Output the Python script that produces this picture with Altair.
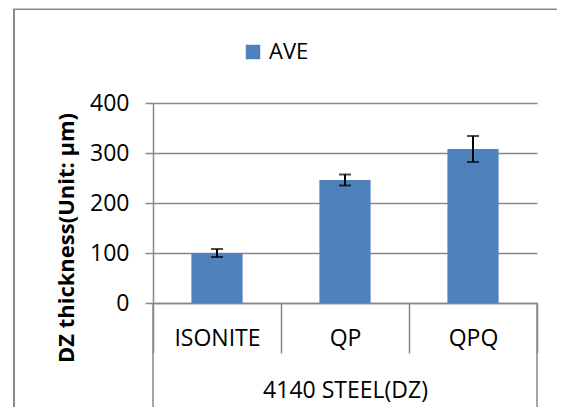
import altair as alt
import pandas as pd

categories = ["ISONITE", "QP", "QPQ"]
ave = [100, 246, 308]
err = [8, 11, 26]
series = ["AVE", "AVE", "AVE"]
group_label = "4140 STEEL(DZ)"
y_title = "DZ thickness(Unit: μm)"

df = pd.DataFrame({
    "cat": categories,
    "ave": ave,
    "lo": [a - e for a, e in zip(ave, err)],
    "hi": [a + e for a, e in zip(ave, err)],
    "series": series,
})

GRAY = "#888888"
FONT = "Open Sans"
W, H = 384, 200

xenc = alt.X(
    "cat:N",
    sort=categories,
    scale=alt.Scale(paddingInner=0, paddingOuter=0),
    axis=alt.Axis(
        title=group_label,
        titleFontSize=23, titleFontWeight="normal", titleColor="black",
        titleX=192, titleY=87, titleBaseline="middle", titleAlign="center",
        tickBand="extent", tickSize=50, tickColor=GRAY, tickWidth=1.5,
        domainColor=GRAY, domainWidth=1.5,
        labelAngle=0, labelFontSize=23, labelColor="black",
        labelBaseline="middle", labelPadding=-15,
    ),
)

yenc = alt.Y(
    "ave:Q",
    scale=alt.Scale(domain=[0, 400], nice=False),
    axis=alt.Axis(
        values=[0, 100, 200, 300, 400],
        title=y_title,
        titleFontSize=22, titleFontWeight="bold", titleColor="black",
        titleAngle=270, titleX=-87, titleY=134.5,
        titleAlign="center", titleBaseline="middle",
        grid=True, gridColor=GRAY, gridWidth=1.5,
        domainColor=GRAY, domainWidth=1.5,
        tickColor=GRAY, tickSize=8, tickWidth=1.5,
        labelFontSize=23, labelColor="black", labelPadding=16,
    ),
)

base = alt.Chart(df)

bars = base.mark_bar(width=alt.RelativeBandSize(0.4)).encode(
    x=xenc,
    y=yenc,
    color=alt.Color(
        "series:N",
        scale=alt.Scale(range=["#4F81BD"]),
        legend=alt.Legend(
            title=None, orient="none", legendX=89, legendY=-62,
            symbolType="square", symbolSize=210, symbolStrokeWidth=0,
            labelFontSize=22, labelColor="black", labelOffset=5, padding=0,
        ),
    ),
)

rules = base.mark_rule(color="black", strokeWidth=2).encode(
    x=alt.X("cat:N", sort=categories),
    y="lo:Q",
    y2="hi:Q",
)
caps_lo = base.mark_tick(color="black", thickness=2, size=12).encode(
    x=alt.X("cat:N", sort=categories), y="lo:Q"
)
caps_hi = base.mark_tick(color="black", thickness=2, size=12).encode(
    x=alt.X("cat:N", sort=categories), y="hi:Q"
)

one = pd.DataFrame({"k": [0]})
left_ext = alt.Chart(one).mark_rule(color=GRAY, strokeWidth=1.5).encode(
    x=alt.value(0), y=alt.value(H), y2=alt.value(H + 104)
)
right_ext = alt.Chart(one).mark_rule(color=GRAY, strokeWidth=1.5).encode(
    x=alt.value(W), y=alt.value(H), y2=alt.value(H + 104)
)
frame_left = alt.Chart(one).mark_rule(color=GRAY, strokeWidth=2).encode(
    x=alt.value(-139), y=alt.value(-94), y2=alt.value(H + 110)
)
frame_top = alt.Chart(one).mark_rect(color=GRAY, strokeWidth=0).encode(
    x=alt.value(-140), x2=alt.value(W + 20), y=alt.value(-94.5), y2=alt.value(-93)
)

chart = alt.layer(frame_left, frame_top, bars, rules, caps_lo, caps_hi, left_ext, right_ext).properties(
    width=W, height=H,
    autosize=alt.AutoSizeParams(type="none"),
    padding={"left": 145, "top": 95, "right": 20, "bottom": 104},
).configure(font=FONT).configure_view(stroke=None)

chart.save("out.html", embed_options={"renderer": "svg", "actions": False})
